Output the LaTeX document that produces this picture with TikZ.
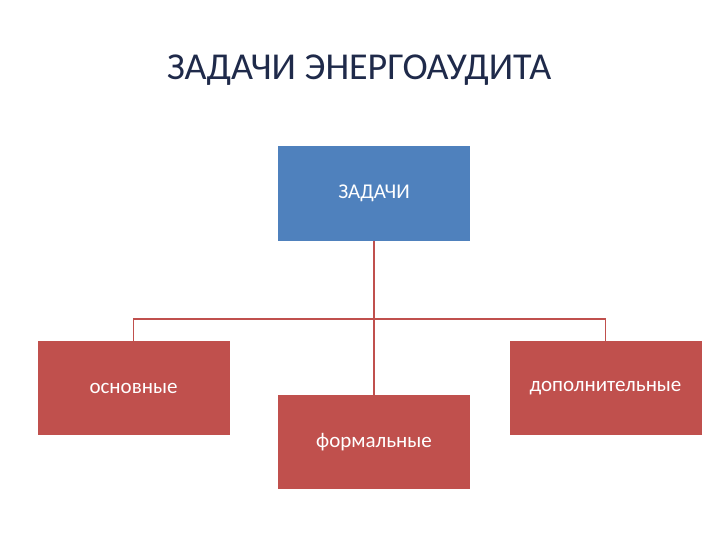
\documentclass[tikz,border=0pt]{standalone}
\usepackage{fontspec}
\setmainfont{Carlito}
\begin{document}
\begin{tikzpicture}[x=1pt,y=-1pt,
  box/.style={draw=none,minimum width=192pt,minimum height=94pt,inner sep=0pt,text=white,font=\fontsize{21}{24}\selectfont},
  link/.style={draw=red!55!black!70!white,line width=1.5pt}]
\definecolor{bblue}{HTML}{4F81BD}
\definecolor{bred}{HTML}{C0504D}
\definecolor{ttl}{HTML}{1F2A4A}
\useasboundingbox (0,0) rectangle (720,540);
\node[font=\fontsize{38}{44}\selectfont,text=ttl] (title) at (359,70) {ЗАДАЧИ ЭНЕРГОАУДИТА};
\node[box,fill=bblue] (top) at (374,193.5) {ЗАДАЧИ};
\node[box,fill=bred] (left) at (133.5,388) {основные};
\node[box,fill=bred] (mid) at (374,442) {формальные};
\node[box,fill=bred] (right) at (605.5,388) {дополнительные};
\coordinate (bar) at (374,319);
\draw[link,draw=bred] (top.south) -- (mid.north);
\draw[link,draw=bred] (left.north) |- (bar) -| (right.north);
\end{tikzpicture}
\end{document}
